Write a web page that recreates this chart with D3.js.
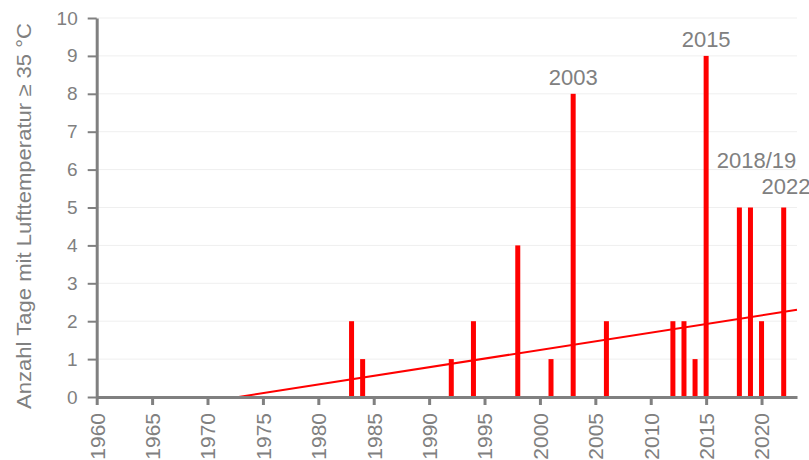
<!DOCTYPE html>
<html>
<head>
<meta charset="utf-8">
<script src="https://cdn.jsdelivr.net/npm/d3@7"></script>
<style>
  body { margin: 0; background: #fff; }
  svg { display: block; font-family: "Liberation Sans", Arial, sans-serif; }
</style>
</head>
<body>
<svg id="chart" width="809" height="460"></svg>
<script>
// Days per year with air temperature >= 35 °C (years without such days are omitted)
const years  = [1983, 1984, 1992, 1994, 1998, 2001, 2003, 2006, 2012, 2013, 2014, 2015, 2018, 2019, 2020, 2022];
const days   = [2, 1, 1, 2, 4, 1, 8, 2, 2, 2, 1, 9, 5, 5, 2, 5];

// Linear trend, drawn from where it leaves zero to the end of the axis
const trendYears  = [1972.8, 2023.2];
const trendValues = [0, 2.3];

// Annotated extreme years: label text and the year/value it sits above
const noteTexts  = ["2003", "2015", "2018/19", "2022"];
const noteYears  = [2003, 2015, 2019.55, 2022.2];
const noteValues = [8, 9, 5.8, 5.12];

const xTicks = d3.range(1960, 2021, 5);
const yTicks = d3.range(0, 11, 1);

const svg = d3.select("#chart");
const grey = "#808080";

const x = d3.scaleLinear().domain([1960, 2023.2]).range([96.7, 797]);
const y = d3.scaleLinear().domain([0, 10]).range([397, 18]);

// Horizontal grid
svg.append("g")
  .selectAll("line")
  .data(yTicks.filter(d => d > 0))
  .join("line")
  .attr("x1", x(1960)).attr("x2", x(2023.2))
  .attr("y1", d => y(d)).attr("y2", d => y(d))
  .attr("stroke", "#efefef").attr("stroke-width", 1);

// Bars
const barW = 5;
svg.append("g")
  .selectAll("rect")
  .data(years.map((yr, i) => ({ yr, v: days[i] })))
  .join("rect")
  .attr("x", d => x(d.yr) - barW / 2)
  .attr("width", barW)
  .attr("y", d => y(d.v))
  .attr("height", d => y(0) - y(d.v))
  .attr("fill", "#ff0000");

// Trend line
svg.append("path")
  .datum(trendYears.map((yr, i) => [yr, trendValues[i]]))
  .attr("d", d3.line().x(d => x(d[0])).y(d => y(d[1])))
  .attr("fill", "none")
  .attr("stroke", "#ff0000")
  .attr("stroke-width", 2);

// Y axis
const yAxis = svg.append("g")
  .attr("transform", `translate(${x(1960)},0)`)
  .call(d3.axisLeft(y).tickValues(yTicks).tickSize(9).tickPadding(10).tickSizeOuter(0));
yAxis.select(".domain").attr("stroke", grey).attr("stroke-width", 3);
yAxis.selectAll(".tick line").attr("stroke", grey).attr("stroke-width", 2);
yAxis.selectAll(".tick text")
  .attr("fill", grey).attr("font-size", 19)
  .attr("font-family", "Liberation Sans, Arial, sans-serif");

// X axis
const xAxis = svg.append("g")
  .attr("transform", `translate(0,${y(0)})`)
  .call(d3.axisBottom(x).tickValues(xTicks).tickFormat(d3.format("d")).tickSize(8).tickSizeOuter(0));
xAxis.select(".domain").attr("stroke", grey).attr("stroke-width", 3);
xAxis.selectAll(".tick line").attr("stroke", grey).attr("stroke-width", 3);
xAxis.selectAll(".tick text")
  .attr("fill", grey).attr("font-size", 21)
  .attr("font-family", "Liberation Sans, Arial, sans-serif")
  .attr("text-anchor", "end")
  .attr("transform", "rotate(-90)")
  .attr("x", -16).attr("y", 0).attr("dy", "0.35em");

// Y axis title
svg.append("text")
  .attr("transform", `translate(24,216) rotate(-90)`)
  .attr("text-anchor", "middle")
  .attr("dy", "0.35em")
  .attr("fill", grey)
  .attr("font-size", 20)
  .attr("textLength", 386)
  .attr("lengthAdjust", "spacingAndGlyphs")
  .text("Anzahl Tage mit Lufttemperatur ≥ 35 °C");

// Annotations above extreme years
svg.append("g")
  .selectAll("text")
  .data(noteTexts.map((t, i) => ({ t, yr: noteYears[i], v: noteValues[i] })))
  .join("text")
  .attr("x", d => x(d.yr))
  .attr("y", d => y(d.v) - 9)
  .attr("text-anchor", "middle")
  .attr("fill", grey)
  .attr("font-size", 22)
  .text(d => d.t);
</script>
</body>
</html>
